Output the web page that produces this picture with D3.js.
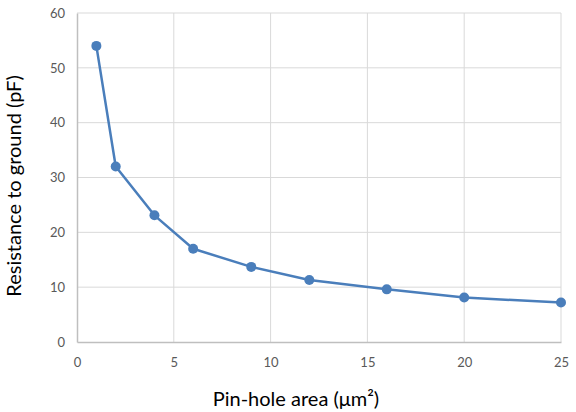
<!DOCTYPE html>
<html>
<head>
<meta charset="utf-8">
<script src="https://cdn.jsdelivr.net/npm/d3@7"></script>
<style>
  html, body { margin: 0; padding: 0; background: #fff; }
  svg { display: block; font-family: Lato, "Open Sans", sans-serif; }
</style>
</head>
<body>
<div id="chart"></div>
<script>
// pin-hole area (um^2) vs resistance to ground (pF)
const areas = [1, 2, 4, 6, 9, 12, 16, 20, 25];
const resistance = [54, 32, 23.1, 17, 13.7, 11.3, 9.6, 8.1, 7.2];
const xTicks = [0, 5, 10, 15, 20, 25];
const yTicks = [0, 10, 20, 30, 40, 50, 60];

const width = 576, height = 412;
const margin = { top: 13, right: 15, bottom: 70, left: 77 };

const svg = d3.select('#chart')
  .append('svg')
  .attr('width', width)
  .attr('height', height);

const x = d3.scaleLinear().domain([0, 25]).range([margin.left, width - margin.right]);
const y = d3.scaleLinear().domain([0, 60]).range([height - margin.bottom, margin.top]);

// grid
svg.append('g')
  .selectAll('line.hgrid')
  .data(yTicks.filter(d => d > 0))
  .enter().append('line')
  .attr('x1', x(0)).attr('x2', x(25))
  .attr('y1', d => y(d)).attr('y2', d => y(d))
  .attr('stroke', '#d9d9d9').attr('stroke-width', 1);

svg.append('g')
  .selectAll('line.vgrid')
  .data(xTicks.filter(d => d > 0))
  .enter().append('line')
  .attr('x1', d => x(d)).attr('x2', d => x(d))
  .attr('y1', y(0)).attr('y2', y(60))
  .attr('stroke', '#d9d9d9').attr('stroke-width', 1);

// axes
const xAxis = svg.append('g')
  .attr('transform', `translate(0,${y(0)})`)
  .call(d3.axisBottom(x).tickValues(xTicks).tickSize(0).tickPadding(16));
const yAxis = svg.append('g')
  .attr('transform', `translate(${x(0)},0)`)
  .call(d3.axisLeft(y).tickValues(yTicks).tickSize(0).tickPadding(12));

[xAxis, yAxis].forEach(g => {
  g.select('.domain').attr('stroke', '#bfbfbf').attr('stroke-width', 1.5);
  g.selectAll('text')
    .attr('fill', '#595959')
    .style('font-size', '13px')
    .style('font-family', 'Lato, "Open Sans", sans-serif');
});

// series - straight segments
const pts = areas.map((a, i) => [a, resistance[i]]);
const line = d3.line()
  .x(d => x(d[0]))
  .y(d => y(d[1]));

svg.append('path')
  .datum(pts)
  .attr('d', line)
  .attr('fill', 'none')
  .attr('stroke', '#4a7ebb')
  .attr('stroke-width', 2.5)
  .attr('stroke-linejoin', 'round');

svg.append('g')
  .selectAll('circle')
  .data(pts)
  .enter().append('circle')
  .attr('cx', d => x(d[0]))
  .attr('cy', d => y(d[1]))
  .attr('r', 5)
  .attr('fill', '#4a7ebb');

// titles
svg.append('text')
  .attr('x', 296)
  .attr('y', 406)
  .attr('text-anchor', 'middle')
  .attr('fill', '#000')
  .style('font-size', '20px')
  .text('Pin-hole area (μm²)');

svg.append('text')
  .attr('transform', `translate(21,186) rotate(-90)`)
  .attr('text-anchor', 'middle')
  .attr('fill', '#000')
  .style('font-size', '20px')
  .text('Resistance to ground (pF)');
</script>
</body>
</html>
